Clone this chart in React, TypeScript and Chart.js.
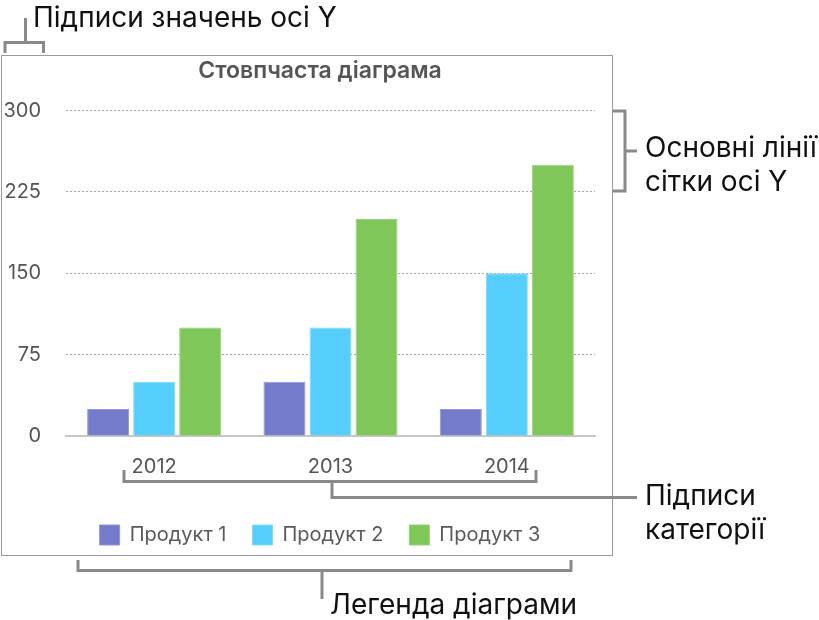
import React, { useEffect, useRef } from "react";
import { Chart, registerables } from "chart.js";

Chart.register(...registerables);

const chartTitle = "Стовпчаста діаграма";
const categories = ["2012", "2013", "2014"];
const seriesLabels = ["Продукт 1", "Продукт 2", "Продукт 3"];
const product1 = [25, 50, 25];
const product2 = [50, 100, 150];
const product3 = [100, 200, 250];
const yTicks = [0, 75, 150, 225, 300];
const seriesColors = ["#747BCA", "#56CEFC", "#7EC758"];
const seriesBorders = ["#8F95D6", "#7DDAFD", "#98D27A"];

const noteYLabels = "Підписи значень осі Y";
const noteGridLines = ["Основні лінії", "сітки осі Y"];
const noteCategories = ["Підписи", "категорії"];
const noteLegend = "Легенда діаграми";

const FONT = "Inter, Roboto, 'Noto Sans', sans-serif";
const TICK_SIZE = 20;

export default function App() {
  const canvasRef = useRef<HTMLCanvasElement | null>(null);

  useEffect(() => {
    const canvas = canvasRef.current;
    if (!canvas) return;

    // measure widest y label so the mirrored labels end right-aligned at x=41
    const mctx = document.createElement("canvas").getContext("2d")!;
    mctx.font = `${TICK_SIZE}px ${FONT}`;
    const widest = Math.max(...yTicks.map((v) => mctx.measureText(String(v)).width));
    const canvasH = 501;
    const padBottom = 1;
    const plotLeft = 66;
    const plotBottom = 381;
    const labelRight = 41;
    const padLeft = 45;
    const legendPad = 26;
    const legendH = 20 + legendPad + 10;
    const xAxisH = canvasH - padBottom - legendH - plotBottom;

    const values = [product1, product2, product3];
    const chart = new Chart(canvas, {
      type: "bar",
      data: {
        labels: categories,
        datasets: values.map((d, i) => ({
          label: seriesLabels[i],
          data: d,
          backgroundColor: seriesColors[i],
          borderColor: seriesBorders[i],
          borderWidth: 1,
          categoryPercentage: 0.783,
          barPercentage: 0.913,
        })),
      },
      options: {
        animation: false,
        responsive: false,
        maintainAspectRatio: false,
        devicePixelRatio: 1,
        layout: { padding: { left: padLeft, right: 18, top: 0, bottom: padBottom } },
        plugins: {
          title: {
            display: true,
            text: chartTitle,
            color: "#555555",
            font: { family: FONT, size: 23, weight: "600" },
            padding: { top: 2, bottom: 26 },
          },
          legend: {
            position: "bottom",
            labels: {
              boxWidth: 20,
              boxHeight: 20,
              padding: legendPad,
              color: "#5a5a5a",
              font: { family: FONT, size: 20 },
            },
          },
          tooltip: { enabled: false },
        },
        scales: {
          x: {
            grid: { display: false },
            border: { display: true, color: "#c6c6c6", width: 2 },
            ticks: { color: "#555555", font: { family: FONT, size: TICK_SIZE }, padding: 11 },
            afterFit: (s: any) => {
              s.height = xAxisH;
            },
          },
          y: {
            min: 0,
            max: 300,
            afterBuildTicks: (s: any) => {
              s.ticks = yTicks.map((v) => ({ value: v }));
            },
            grid: {
              drawTicks: false,
              lineWidth: 1,
              color: (ctx: any) => (ctx.tick && ctx.tick.value === 0 ? "rgba(0,0,0,0)" : "#a6a6a6"),
            },
            border: { display: false, dash: [2, 2] },
            ticks: {
              color: "#555555",
              font: { family: FONT, size: TICK_SIZE },
              mirror: true,
              crossAlign: "far",
              padding: labelRight - plotLeft - widest,
            },
            afterFit: (s: any) => {
              s.width = plotLeft - padLeft;
            },
          },
        },
      },
    });
    return () => chart.destroy();
  }, []);

  const noteStyle: React.CSSProperties = {
    position: "absolute",
    fontFamily: FONT,
    fontSize: 28,
    lineHeight: "34px",
    color: "#111111",
    whiteSpace: "nowrap",
  };

  return (
    <div
      style={{
        position: "fixed",
        left: 0,
        top: 0,
        width: 819,
        height: 620,
        background: "#ffffff",
        overflow: "hidden",
      }}
    >
      <div
        style={{
          position: "absolute",
          left: 1,
          top: 55,
          width: 612,
          height: 501,
          boxSizing: "border-box",
          border: "1px solid #9a9a9a",
        }}
      />
      <canvas
        ref={canvasRef}
        width={613}
        height={501}
        style={{ position: "absolute", left: 0, top: 55, width: 613, height: 501 }}
      />
      <svg
        width={819}
        height={620}
        style={{ position: "absolute", left: 0, top: 0, pointerEvents: "none" }}
      >
        <g fill="none" stroke="#8a8a8a" strokeWidth={3}>
          <polyline points="5,53 5,42.5 43.5,42.5 43.5,53" />
          <line x1={25.5} y1={42.5} x2={25.5} y2={18} />
          <polyline points="613,111 625,111 625,191 613,191" />
          <line x1={625} y1={151} x2={637} y2={151} />
          <polyline points="124,470 124,481.5 536,481.5 536,470" />
          <polyline points="332,481.5 332,497.5 637,497.5" />
          <polyline points="78,560 78,570.5 571,570.5 571,560" />
          <line x1={322} y1={570.5} x2={322} y2={599} />
        </g>
      </svg>
      <div style={{ ...noteStyle, left: 33, top: 0 }}>{noteYLabels}</div>
      <div style={{ ...noteStyle, left: 645, top: 130 }}>
        {noteGridLines[0]}
        <br />
        {noteGridLines[1]}
      </div>
      <div style={{ ...noteStyle, left: 645, top: 478 }}>
        {noteCategories[0]}
        <br />
        {noteCategories[1]}
      </div>
      <div style={{ ...noteStyle, left: 330, top: 587 }}>{noteLegend}</div>
    </div>
  );
}
